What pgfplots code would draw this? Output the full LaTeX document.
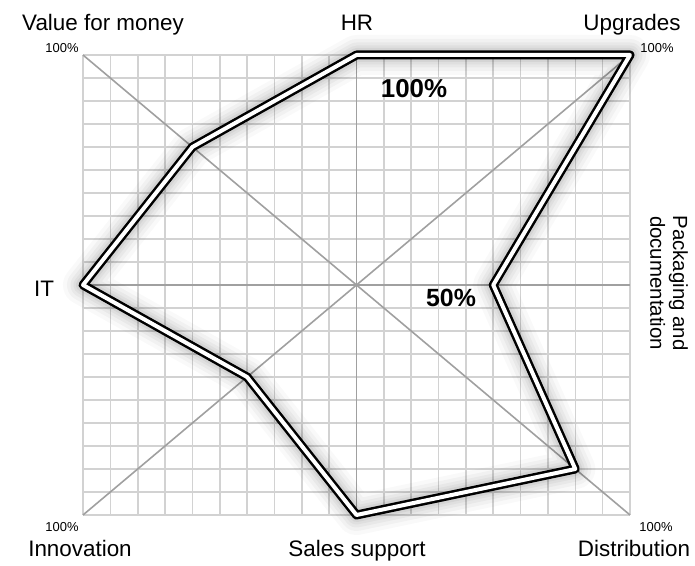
\documentclass[border=0pt]{standalone}
\usepackage{pgfplots}
\pgfplotsset{compat=1.18}
\usepackage{fontspec}
\setmainfont{Liberation Sans}

\definecolor{gridgray}{RGB}{210,210,210}
\definecolor{axgray}{RGB}{160,160,160}

% score of each area in percent, placed on its spoke
% (up = HR, clockwise)
\pgfplotstableread{
x    y
0    100
100  100
50   0
80   -80
0    -100
-40  -40
-100 0
-60  60
}\scores

\begin{document}
\begin{tikzpicture}
\begin{axis}[
    name=ax,
    width=547bp, height=460bp,
    scale only axis,
    xmin=-100, xmax=100,
    ymin=-100, ymax=100,
    xtick={-100,-90,...,100},
    ytick={-100,-90,...,100},
    xticklabels={}, yticklabels={},
    tick style={draw=none},
    axis line style={draw=none},
    grid=major,
    major grid style={line width=1.6bp, color=gridgray},
    clip=false,
]
% spokes
\draw[axgray, line width=1.6bp] (axis cs:-100,0) -- (axis cs:100,0);
\draw[axgray, line width=1.6bp] (axis cs:0,-100) -- (axis cs:0,100);
\draw[axgray, line width=1.6bp] (axis cs:-100,-100) -- (axis cs:100,100);
\draw[axgray, line width=1.6bp] (axis cs:-100,100) -- (axis cs:100,-100);

% soft shadow
\addplot[black, opacity=0.025, line width=40bp, line join=round] table {\scores} -- cycle;
\addplot[black, opacity=0.03, line width=32bp, line join=round] table {\scores} -- cycle;
\addplot[black, opacity=0.035, line width=25bp, line join=round] table {\scores} -- cycle;
\addplot[black, opacity=0.04, line width=19bp, line join=round] table {\scores} -- cycle;
\addplot[black, opacity=0.05, line width=14bp, line join=round] table {\scores} -- cycle;

% the profile
\addplot[black, line width=2.5bp, double=white, double distance=4bp, line join=round] table {\scores} -- cycle;
\end{axis}

\coordinate (o) at ([shift={(-83bp,-51bp)}]ax.south west);
\useasboundingbox (o) rectangle ([shift={(695bp,566bp)}]o);

\begin{scope}[every node/.style={inner sep=0pt, font=\fontsize{22.5}{24}\selectfont}]
\node[anchor=base] at ([shift={(103bp,535bp)}]o) {Value for money};
\node[anchor=base] at ([shift={(357bp,535bp)}]o) {HR};
\node[anchor=base] at ([shift={(632bp,535bp)}]o) {Upgrades};
\node[anchor=base] at ([shift={(44bp,269bp)}]o) {IT};
\node[anchor=base] at ([shift={(80bp,10bp)}]o) {Innovation};
\node[anchor=base] at ([shift={(357bp,10bp)}]o) {Sales support};
\node[anchor=base] at ([shift={(634bp,10bp)}]o) {Distribution};
\end{scope}
\node[inner sep=0pt, rotate=-90, align=center, font=\fontsize{20.5}{23}\selectfont]
  at ([shift={(669bp,283bp)}]o) {Packaging and\\documentation};

\begin{scope}[every node/.style={inner sep=0pt, font=\fontsize{13}{15}\selectfont}]
\node at ([shift={(62bp,518bp)}]o) {100\%};
\node at ([shift={(657bp,518bp)}]o) {100\%};
\node at ([shift={(62bp,39bp)}]o) {100\%};
\node at ([shift={(656bp,39bp)}]o) {100\%};
\end{scope}

\node[inner sep=0pt, font=\bfseries\fontsize{26}{28}\selectfont] at ([shift={(414bp,477bp)}]o) {100\%};
\node[inner sep=0pt, font=\bfseries\fontsize{25}{28}\selectfont] at ([shift={(451bp,268bp)}]o) {50\%};
\end{tikzpicture}
\end{document}
